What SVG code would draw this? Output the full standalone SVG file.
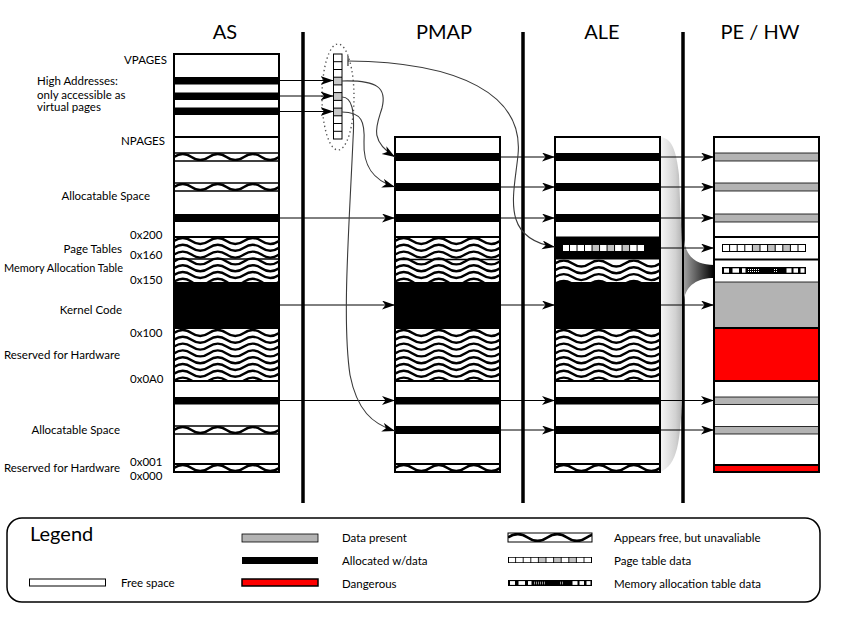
<svg xmlns="http://www.w3.org/2000/svg" xmlns:xlink="http://www.w3.org/1999/xlink" width="850" height="618" viewBox="0 0 850 618">
<defs>
<style>
.t{font-family:Lato,"Liberation Sans",sans-serif;fill:#000}
.title{font-size:20px;text-anchor:middle}
.lb{font-size:11.5px}
.r{text-anchor:end}
.out{fill:none;stroke:#000;stroke-width:2}
.bg{fill:#fff}
.blk{fill:#000}
.gry{fill:#b3b3b3;stroke:#000;stroke-width:0.8}
.red{fill:#f00}
.hl{stroke:#000;stroke-width:1.8}
.thin{stroke:#000;stroke-width:1.5}
.sep{stroke:#000;stroke-width:3.5}
.ar{fill:none;stroke:#000;stroke-width:1;marker-end:url(#ah)}
.cv{fill:none;stroke:#3a3a3a;stroke-width:1.1;marker-end:url(#ah)}
.wl{fill:none;stroke:#000;stroke-width:2.4}
</style>
<marker id="ah" markerUnits="userSpaceOnUse" markerWidth="14" markerHeight="10" refX="13" refY="4.5" orient="auto" viewBox="0 0 14 10">
<path d="M0,0 L13,4.5 L0,9 L3.5,4.5 Z" fill="#000"/>
</marker>
<marker id="tk" markerUnits="userSpaceOnUse" markerWidth="3" markerHeight="10" refX="1.5" refY="5" orient="auto" viewBox="0 0 3 10">
<path d="M1.5,0 V10" stroke="#333" stroke-width="1.2"/>
</marker>
<path id="wp" class="wl" d="M0,0 q8.75,-6 17.5,0 t17.5,0 t17.5,0 t17.5,0 t17.5,0 t17.5,0"/>
<symbol id="wb" viewBox="0 0 105 8" preserveAspectRatio="xMinYMin slice">
<use xlink:href="#wp" y="4"/>
</symbol>
<symbol id="wr" viewBox="0 0 105 60" preserveAspectRatio="xMinYMin slice">
<use xlink:href="#wp" y="4"/><use xlink:href="#wp" y="10.8"/><use xlink:href="#wp" y="17.6"/><use xlink:href="#wp" y="24.4"/><use xlink:href="#wp" y="31.2"/><use xlink:href="#wp" y="38"/><use xlink:href="#wp" y="44.8"/><use xlink:href="#wp" y="51.6"/><use xlink:href="#wp" y="58.4"/>
</symbol>
<symbol id="pt" viewBox="0 0 84 8" preserveAspectRatio="none">
<rect x="0.5" y="0.5" width="83" height="7" fill="#fff"/>
<rect x="30.4" y="0.5" width="7.6" height="7" fill="#c0c0c0"/>
<rect x="45.6" y="0.5" width="7.6" height="7" fill="#c0c0c0"/>
<rect x="60.8" y="0.5" width="7.6" height="7" fill="#c0c0c0"/>
<path d="M7.6,0V8M15.2,0V8M22.8,0V8M30.4,0V8M38,0V8M45.6,0V8M53.2,0V8M60.8,0V8M68.4,0V8M76,0V8" stroke="#000" stroke-width="1"/>
<rect x="0.5" y="0.5" width="83" height="7" fill="none" stroke="#000" stroke-width="1"/>
</symbol>
<pattern id="dots" width="2" height="2" patternUnits="userSpaceOnUse">
<rect width="2" height="2" fill="#000"/><rect width="1" height="1" fill="#fff"/>
</pattern>
<symbol id="mat" viewBox="0 0 84 7" preserveAspectRatio="none">
<rect width="84" height="7" fill="#000"/>
<rect x="2" y="1.3" width="5" height="4.4" fill="#fff"/>
<rect x="10.5" y="1.3" width="6.5" height="4.4" fill="#fff"/>
<rect x="20" y="1.3" width="3.5" height="4.4" fill="#fff"/>
<rect x="25" y="1.3" width="13" height="4.4" fill="url(#dots)"/>
<rect x="51" y="1.3" width="5" height="4.4" fill="url(#dots)"/>
<rect x="64.5" y="1.3" width="5" height="4.4" fill="#fff"/>
<rect x="71.5" y="1.3" width="4.5" height="4.4" fill="#fff"/>
<rect x="78.5" y="1.3" width="4" height="4.4" fill="#fff"/>
</symbol>
<linearGradient id="sg" x1="0" y1="0" x2="1" y2="0">
<stop offset="0" stop-color="#f7f7f7"/><stop offset="0.7" stop-color="#d2d2d2"/><stop offset="1" stop-color="#b4b4b4"/>
</linearGradient>
<linearGradient id="fg" x1="0" y1="0" x2="1" y2="0">
<stop offset="0" stop-color="#a0a0a0"/><stop offset="1" stop-color="#000"/>
</linearGradient>
</defs>

<rect width="850" height="618" fill="#fff"/>

<g id="titles">
<text class="t title" x="225" y="39">AS</text>
<text class="t title" x="444" y="39">PMAP</text>
<text class="t title" x="602" y="39">ALE</text>
<text class="t title" x="760" y="39">PE / HW</text>
</g>

<g id="labels">
<text class="t lb r" x="167" y="64">VPAGES</text>
<text class="t lb" x="37" y="85">High Addresses:</text>
<text class="t lb" x="37" y="99">only accessible as</text>
<text class="t lb" x="37" y="111">virtual pages</text>
<text class="t lb r" x="165" y="145">NPAGES</text>
<text class="t lb r" x="150" y="200">Allocatable Space</text>
<text class="t lb" x="130" y="239">0x200</text>
<text class="t lb r" x="122" y="253">Page Tables</text>
<text class="t lb" x="130" y="259">0x160</text>
<text class="t lb" x="4" y="272" textLength="119" lengthAdjust="spacingAndGlyphs">Memory Allocation Table</text>
<text class="t lb" x="130" y="284">0x150</text>
<text class="t lb r" x="122" y="314">Kernel Code</text>
<text class="t lb" x="130" y="337">0x100</text>
<text class="t lb r" x="120" y="359">Reserved for Hardware</text>
<text class="t lb" x="130" y="383">0x0A0</text>
<text class="t lb r" x="120" y="434">Allocatable Space</text>
<text class="t lb" x="130" y="466">0x001</text>
<text class="t lb r" x="120" y="472">Reserved for Hardware</text>
<text class="t lb" x="130" y="480">0x000</text>
</g>

<g id="separators">
<line class="sep" x1="303" y1="32" x2="303" y2="503"/>
<line class="sep" x1="523" y1="32" x2="523" y2="503"/>
<line class="sep" x1="683" y1="32" x2="683" y2="503"/>
</g>

<g id="ale-shadow">
<path d="M660,137 C672,138 676,150 679,175 L682,250 L682,400 C680,440 678,465 660,472 Z" fill="url(#sg)"/>
<path d="M684,240 C686,258 698,265 714,265 L714,278 C698,278 686,285 684,300 Z" fill="url(#fg)"/>
</g>

<g id="as">
<rect class="bg" x="174" y="54" width="105" height="418"/>
<rect class="blk" x="174" y="77" width="105" height="7.5"/>
<rect class="blk" x="174" y="92.5" width="105" height="7.5"/>
<rect class="blk" x="174" y="107.5" width="105" height="7.5"/>
<line class="hl" x1="174" y1="137" x2="279" y2="137"/>
<use xlink:href="#wb" x="174" y="153" width="105" height="8"/>
<line class="thin" x1="174" y1="153" x2="279" y2="153"/>
<line class="thin" x1="174" y1="161" x2="279" y2="161"/>
<use xlink:href="#wb" x="174" y="183" width="105" height="8"/>
<line class="thin" x1="174" y1="183" x2="279" y2="183"/>
<line class="thin" x1="174" y1="191" x2="279" y2="191"/>
<rect class="blk" x="174" y="214" width="105" height="8"/>
<use xlink:href="#wr" x="174" y="237" width="105" height="45"/>
<line class="hl" x1="174" y1="237" x2="279" y2="237"/>
<line class="thin" x1="174" y1="259" x2="279" y2="259"/>
<rect class="blk" x="174" y="282" width="105" height="47"/>
<use xlink:href="#wr" x="174" y="329" width="105" height="52"/>
<line class="hl" x1="174" y1="381" x2="279" y2="381"/>
<rect class="blk" x="174" y="397" width="105" height="7.5"/>
<use xlink:href="#wb" x="174" y="426" width="105" height="8"/>
<line class="thin" x1="174" y1="426" x2="279" y2="426"/>
<line class="thin" x1="174" y1="434" x2="279" y2="434"/>
<use xlink:href="#wb" x="174" y="464" width="105" height="8"/>
<line class="hl" x1="174" y1="464" x2="279" y2="464"/>
<rect class="out" x="174" y="54" width="105" height="418"/>
</g>

<g id="vpages">
<ellipse cx="338" cy="97" rx="16" ry="53" fill="none" stroke="#555" stroke-width="1.4" stroke-dasharray="1.3 3"/>
<rect x="333.5" y="54" width="8.5" height="85" fill="#fff"/>
<rect x="333.5" y="77.2" width="8.5" height="7.7" fill="#c8c8c8"/>
<rect x="333.5" y="92.6" width="8.5" height="7.7" fill="#c8c8c8"/>
<rect x="333.5" y="108.1" width="8.5" height="7.7" fill="#c8c8c8"/>
<path d="M333.5,61.7H342M333.5,69.5H342M333.5,77.2H342M333.5,84.9H342M333.5,92.6H342M333.5,100.4H342M333.5,108.1H342M333.5,115.8H342M333.5,123.5H342M333.5,131.3H342" stroke="#000" stroke-width="1"/>
<rect x="333.5" y="54" width="8.5" height="85" fill="none" stroke="#000" stroke-width="1"/>
</g>

<g id="pmap">
<rect class="bg" x="395" y="137" width="105" height="335"/>
<rect class="blk" x="395" y="153" width="105" height="8"/>
<rect class="blk" x="395" y="183" width="105" height="8"/>
<rect class="blk" x="395" y="214" width="105" height="8"/>
<use xlink:href="#wr" x="395" y="237" width="105" height="45"/>
<line class="hl" x1="395" y1="237" x2="500" y2="237"/>
<line class="thin" x1="395" y1="259.5" x2="500" y2="259.5"/>
<rect class="blk" x="395" y="282" width="105" height="47"/>
<use xlink:href="#wr" x="395" y="329" width="105" height="52"/>
<line class="hl" x1="395" y1="381" x2="500" y2="381"/>
<rect class="blk" x="395" y="397" width="105" height="7.5"/>
<rect class="blk" x="395" y="426" width="105" height="8"/>
<use xlink:href="#wb" x="395" y="464" width="105" height="8"/>
<line class="hl" x1="395" y1="464" x2="500" y2="464"/>
<rect class="out" x="395" y="137" width="105" height="335"/>
</g>

<g id="ale">
<rect class="bg" x="555" y="137" width="105" height="335"/>
<rect class="blk" x="555" y="153" width="105" height="8"/>
<rect class="blk" x="555" y="183" width="105" height="8"/>
<rect class="blk" x="555" y="214" width="105" height="8"/>
<rect class="blk" x="555" y="236.5" width="105" height="23"/>
<use xlink:href="#pt" x="562" y="244" width="83" height="8"/>
<use xlink:href="#wr" x="555" y="259.5" width="105" height="22.5"/>
<rect class="blk" x="555" y="282" width="105" height="47"/>
<use xlink:href="#wr" x="555" y="329" width="105" height="52"/>
<line class="hl" x1="555" y1="381" x2="660" y2="381"/>
<rect class="blk" x="555" y="397" width="105" height="7.5"/>
<rect class="blk" x="555" y="426" width="105" height="8"/>
<use xlink:href="#wb" x="555" y="464" width="105" height="8"/>
<line class="hl" x1="555" y1="464" x2="660" y2="464"/>
<rect class="out" x="555" y="137" width="105" height="335"/>
</g>

<g id="pe-hw">
<rect class="bg" x="714" y="137" width="105" height="335"/>
<rect class="gry" x="714" y="153" width="105" height="8"/>
<rect class="gry" x="714" y="183" width="105" height="8"/>
<rect class="gry" x="714" y="214" width="105" height="8"/>
<line class="hl" x1="714" y1="237" x2="819" y2="237"/>
<use xlink:href="#pt" x="722" y="244" width="84" height="8"/>
<line class="hl" x1="714" y1="259.5" x2="819" y2="259.5"/>
<use xlink:href="#mat" x="722" y="267" width="84" height="7"/>
<rect class="gry" x="714" y="282" width="105" height="46" stroke-width="1.6"/>
<rect class="red" x="714" y="328" width="105" height="52"/>
<line class="hl" x1="714" y1="328" x2="819" y2="328"/>
<line class="hl" x1="714" y1="381" x2="819" y2="381"/>
<rect class="gry" x="714" y="397" width="105" height="7.5"/>
<rect class="gry" x="714" y="426.5" width="105" height="7.5"/>
<rect class="red" x="714" y="465" width="105" height="7"/>
<line class="hl" x1="714" y1="465" x2="819" y2="465"/>
<rect class="out" x="714" y="137" width="105" height="335"/>
</g>

<g id="connectors">
<line class="ar" x1="279" y1="80.5" x2="333.5" y2="80.5"/>
<line class="ar" x1="279" y1="96" x2="333.5" y2="96"/>
<line class="ar" x1="279" y1="111.5" x2="333.5" y2="111.5"/>
<line class="ar" x1="279" y1="218" x2="395" y2="218"/>
<line class="ar" x1="279" y1="305" x2="395" y2="305"/>
<line class="ar" x1="279" y1="400.5" x2="395" y2="400.5"/>
<line class="ar" x1="500" y1="157" x2="555" y2="157"/>
<line class="ar" x1="500" y1="187" x2="555" y2="187"/>
<line class="ar" x1="500" y1="218" x2="555" y2="218"/>
<line class="ar" x1="500" y1="305" x2="555" y2="305"/>
<line class="ar" x1="500" y1="400.5" x2="555" y2="400.5"/>
<line class="ar" x1="500" y1="430" x2="555" y2="430"/>
<line class="ar" x1="660" y1="157" x2="714" y2="157"/>
<line class="ar" x1="660" y1="187" x2="714" y2="187"/>
<line class="ar" x1="660" y1="218" x2="714" y2="218"/>
<line class="ar" x1="645" y1="248" x2="714" y2="248"/>
<line class="ar" x1="660" y1="305" x2="714" y2="305"/>
<line class="ar" x1="660" y1="400.5" x2="714" y2="400.5"/>
<line class="ar" x1="660" y1="430" x2="714" y2="430"/>
<path class="cv" d="M348,61 C460,62 524,95 518,155 C514,195 500,238 555,247" marker-start="url(#tk)"/>
<path class="cv" d="M342,81 C378,80 387,88 382,108 C377,125 368,140 395,157"/>
<path class="cv" d="M342,112 C362,112 365,122 364,142 C363,165 372,180 395,187"/>
<path class="cv" d="M342,97 C352,97 355,110 353,140 C349,230 342,320 350,375 C357,410 372,424 395,431"/>
</g>

<g id="legend">
<rect x="7" y="518" width="813" height="84" rx="15" fill="#fff" stroke="#000" stroke-width="1.5"/>
<text class="t" x="30" y="541" font-size="20">Legend</text>
<rect x="29.5" y="579" width="76" height="7" fill="#fff" stroke="#000" stroke-width="1"/>
<text class="t lb" x="121" y="587">Free space</text>
<rect class="gry" x="242" y="534" width="76" height="8"/>
<text class="t lb" x="342" y="542">Data present</text>
<rect class="blk" x="242" y="557" width="76" height="7"/>
<text class="t lb" x="342" y="565">Allocated w/data</text>
<rect class="red" x="242" y="579" width="76" height="7" stroke="#000" stroke-width="1.5"/>
<text class="t lb" x="342" y="588">Dangerous</text>
<rect x="508" y="533" width="84" height="9" fill="#fff"/>
<use xlink:href="#wb" x="508" y="533" width="84" height="9"/>
<rect x="508" y="533" width="84" height="9" fill="none" stroke="#000" stroke-width="1"/>
<text class="t lb" x="614" y="542">Appears free, but unavaliable</text>
<use xlink:href="#pt" x="508" y="557" width="84" height="6"/>
<text class="t lb" x="614" y="565">Page table data</text>
<use xlink:href="#mat" x="508" y="580" width="84" height="6"/>
<text class="t lb" x="614" y="588">Memory allocation table data</text>
</g>
</svg>
